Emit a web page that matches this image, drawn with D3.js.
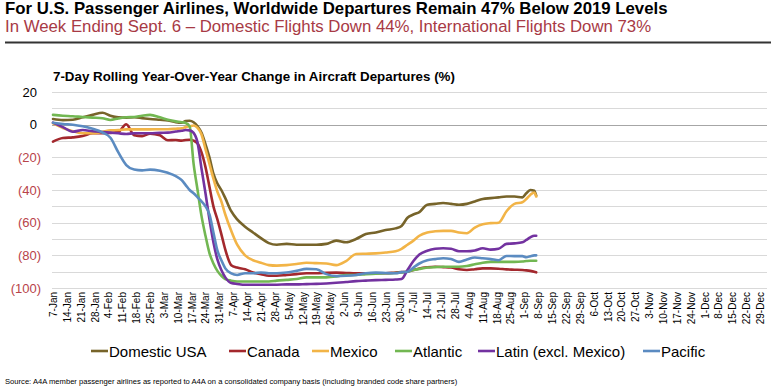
<!DOCTYPE html>
<html><head><meta charset="utf-8">
<script src="https://cdn.jsdelivr.net/npm/d3@7"></script>
<style>body{margin:0;background:#fff;}svg{display:block;font-family:Arial,"Liberation Sans",sans-serif;}</style>
</head><body><svg id="c" width="771" height="388"></svg>
<script>
const dates = ["2020-01-07","2020-01-12","2020-01-17","2020-01-22","2020-01-27","2020-02-01","2020-02-05","2020-02-09","2020-02-13","2020-02-17","2020-02-21","2020-02-25","2020-03-01","2020-03-05","2020-03-09","2020-03-12","2020-03-14","2020-03-16","2020-03-18","2020-03-20","2020-03-22","2020-03-24","2020-03-26","2020-03-28","2020-03-30","2020-04-01","2020-04-03","2020-04-06","2020-04-09","2020-04-13","2020-04-17","2020-04-21","2020-04-25","2020-04-29","2020-05-04","2020-05-09","2020-05-14","2020-05-19","2020-05-24","2020-05-29","2020-06-03","2020-06-08","2020-06-13","2020-06-18","2020-06-23","2020-06-28","2020-07-01","2020-07-04","2020-07-07","2020-07-10","2020-07-14","2020-07-18","2020-07-22","2020-07-26","2020-07-30","2020-08-03","2020-08-07","2020-08-11","2020-08-15","2020-08-19","2020-08-23","2020-08-27","2020-08-31","2020-09-02","2020-09-04","2020-09-06","2020-09-07"];

const domesticUSA = [3.5,2.8,3,4.5,6,7.3,5.5,4.5,4.3,4.5,4,3.5,3,2.6,1.5,1.2,2.2,2.4,1.5,-1,-5,-12,-20,-30,-36,-40,-45,-53,-58,-62.5,-66,-69.5,-72.5,-73.5,-73,-73.5,-73.5,-73.5,-73,-71,-72,-70,-67,-66,-64.5,-63.5,-62,-57,-55,-53.5,-49,-48.5,-48,-48.5,-49,-48.5,-47,-45.5,-45,-44.5,-44,-44,-44.5,-42,-40,-40.5,-43.5];
const canada = [-10.4,-8.2,-7.8,-7,-5.3,-5.3,-5,-4.5,0.3,-6.5,-7,-5.5,-6.5,-9.5,-9.4,-9.8,-9.4,-9.2,-9.8,-11.5,-17,-26,-38,-50,-58,-67,-76.5,-86,-87.5,-88.5,-90.5,-91.5,-92.5,-92.5,-92,-91.5,-91,-91,-90.7,-90.6,-90.8,-91,-91,-91,-91,-90.5,-90.3,-90,-89,-88,-87.3,-87,-87.2,-87.5,-88.5,-89,-88.5,-88,-88,-88.2,-88.6,-88.8,-89,-89.2,-89.5,-90,-90.4];
const mexico = [0.8,-2,-4,-5.3,-5.3,-4.3,-3.5,-3.3,-2.9,-2.9,-2.9,-2.9,-2.8,-2.8,-2.5,-2.2,-1.5,-1,-0.5,-2,-6,-15,-24,-33,-41,-47,-55,-65,-73.5,-80,-83,-84.5,-86,-86.3,-86,-85.3,-84.5,-84.8,-85,-86,-83.5,-79.2,-79,-78.8,-78.3,-77.5,-76,-73.5,-71,-68,-66,-65.3,-65,-65,-66,-66.5,-63,-61,-60.3,-60,-53,-48.5,-47.5,-45.5,-43,-41.5,-44];
const atlantic = [6,5.5,5.2,4.7,4.3,3.9,2.9,3.8,4.5,4.7,5.5,6,4.5,3,2,1.5,1,-1,-24,-40,-56,-68,-78.6,-85,-89.5,-92.5,-94.5,-95.5,-96,-96,-96,-96,-96,-95.5,-95,-94.5,-93.5,-93.5,-93.5,-93,-92,-92,-91.5,-91.3,-91,-90.8,-90.5,-90,-89,-88.3,-87.5,-87.2,-87,-87,-87,-86.5,-85.5,-84.5,-84,-84,-84,-84,-83.8,-83.5,-83.3,-83.3,-83.3];
const latin = [1.2,-1.5,-4.3,-3.3,-4,-4.5,-4.9,-5.3,-5.7,-5.3,-5.3,-5.3,-5,-4.9,-4.2,-3.7,-3.3,-3.5,-5,-11,-27,-42,-58,-72,-82.5,-89,-93.5,-97,-97.5,-98,-98,-98,-98,-98,-97.8,-97.8,-97.6,-97.5,-97.2,-96.8,-96.3,-95.8,-95.5,-95.2,-95,-94.8,-94.5,-89,-83.5,-79.5,-77.2,-76,-75.7,-76,-77.5,-77.5,-77,-75.7,-76.5,-76,-73,-72.7,-72,-70.6,-69,-68,-68];
const pacific = [1.2,0.4,0,-1,-2.5,-4.8,-8,-17,-24.7,-27.5,-28,-27.5,-28.2,-29.5,-31.5,-34,-37,-40,-42,-44.5,-47,-50,-55,-66,-77,-83,-88,-91,-92,-91,-91,-90.5,-91,-91,-90.5,-89.5,-88.3,-88.5,-91.5,-92.7,-92.5,-92,-91,-90.6,-90.8,-91,-90.3,-90,-87.5,-85,-83,-82.3,-81.8,-82.3,-84,-82.5,-81.3,-81.8,-82.3,-83,-80.4,-80.5,-80.5,-81.2,-80.5,-80,-80];

const seriesNames = ["Domestic USA","Canada","Mexico","Atlantic","Latin (excl. Mexico)","Pacific"];
const seriesColors = ["#77642a","#a3282d","#f2b447","#72b752","#7332a0","#5b8bc1"];
const yTicks = [20,0,-20,-40,-60,-80,-100];
const xTickLabels = ["7-Jan","14-Jan","21-Jan","28-Jan","4-Feb","11-Feb","18-Feb","25-Feb","3-Mar","10-Mar","17-Mar","24-Mar","31-Mar","7-Apr","14-Apr","21-Apr","28-Apr","5-May","12-May","19-May","26-May","2-Jun","9-Jun","16-Jun","23-Jun","30-Jun","7-Jul","14-Jul","21-Jul","28-Jul","4-Aug","11-Aug","18-Aug","25-Aug","1-Sep","8-Sep","15-Sep","22-Sep","29-Sep","6-Oct","13-Oct","20-Oct","27-Oct","3-Nov","10-Nov","17-Nov","24-Nov","1-Dec","8-Dec","15-Dec","22-Dec","29-Dec"];

const titleText = "For U.S. Passenger Airlines, Worldwide Departures Remain 47% Below 2019 Levels";
const subtitleText = "In Week Ending Sept. 6 \u2013 Domestic Flights Down 44%, International Flights Down 73%";
const chartTitle = "7-Day Rolling Year-Over-Year Change in Aircraft Departures (%)";
const sourceText = "Source: A4A member passenger airlines as reported to A4A on a consolidated company basis (including branded code share partners)";

const allSeries = [domesticUSA, canada, mexico, atlantic, latin, pacific];
const parse = d3.timeParse("%Y-%m-%d");
const parseTick = d3.timeParse("%d-%b-%Y");
const dts = dates.map(parse);

const svg = d3.select("#c");
const plotL = 52, plotR = 767;
const x = d3.scaleTime().domain([parse("2020-01-07"), parse("2020-12-29")]).range([53, 760]);
const y = d3.scaleLinear().domain([-100, 20]).range([288, 92]);

function fitText(sel, w) {
  const len = sel.node().getComputedTextLength();
  const fs = parseFloat(sel.attr("font-size"));
  sel.attr("font-size", (fs * w / len).toFixed(2));
}

// Titles
fitText(svg.append("text").attr("x", 5).attr("y", 14).attr("font-size", 15).attr("font-weight", "bold").attr("fill", "#000").text(titleText), 663);
fitText(svg.append("text").attr("x", 5).attr("y", 32).attr("font-size", 15).attr("fill", "#a83a45").text(subtitleText), 647);
svg.append("line").attr("x1", 5).attr("x2", 771).attr("y1", 42.5).attr("y2", 42.5).attr("stroke", "#333").attr("stroke-width", 2);
fitText(svg.append("text").attr("x", 53).attr("y", 81).attr("font-size", 13).attr("font-weight", "bold").attr("fill", "#000").text(chartTitle), 402);

// Gridlines every 10
const grid = d3.range(-100, 21, 10);
svg.append("g").selectAll("line").data(grid).join("line")
  .attr("x1", plotL).attr("x2", plotR)
  .attr("y1", d => Math.round(y(d)) + 0.5).attr("y2", d => Math.round(y(d)) + 0.5)
  .attr("stroke", d => d === 0 ? "#a6a6a6" : "#d9d9d9").attr("stroke-width", 1);

// Y axis labels
const yAxis = d3.axisLeft(y).tickValues(yTicks).tickSize(0).tickPadding(0)
  .tickFormat(d => d < 0 ? "(" + Math.abs(d) + ")" : String(d));
const yg = svg.append("g").attr("transform", "translate(41,0)").call(yAxis);
yg.select(".domain").remove();
yg.selectAll("text").attr("font-size", 13).attr("font-family", "Arial, 'Liberation Sans', sans-serif")
  .attr("fill", d => d < 0 ? "#b8434a" : "#000")
  .attr("dx", d => d < 0 ? 0 : -4);

// X axis labels
const tickDates = xTickLabels.map(t => parseTick(t + "-2020"));
const xAxis = d3.axisBottom(x).tickValues(tickDates).tickSize(0).tickPadding(0)
  .tickFormat((d, i) => xTickLabels[i]);
const xg = svg.append("g").attr("transform", "translate(0,292)").call(xAxis);
xg.select(".domain").remove();
xg.selectAll("text").attr("font-size", 10).attr("font-family", "Arial, 'Liberation Sans', sans-serif").attr("fill", "#000")
  .attr("transform", "rotate(-90)").attr("text-anchor", "end").attr("x", 0).attr("y", 0).attr("dy", "0.35em").attr("dx", 0);

// Lines
const line = d3.line().x((d, i) => x(dts[i])).y(d => y(d)).curve(d3.curveMonotoneX);
svg.append("g").selectAll("path").data(allSeries).join("path")
  .attr("d", d => line(d)).attr("fill", "none")
  .attr("stroke", (d, i) => seriesColors[i]).attr("stroke-width", 2.6)
  .attr("stroke-linejoin", "round").attr("stroke-linecap", "round");

// Legend
const legendX = [91, 229, 312, 395, 478, 643];
const lg = svg.append("g");
seriesNames.forEach((n, i) => {
  lg.append("line").attr("x1", legendX[i]).attr("x2", legendX[i] + 17).attr("y1", 351).attr("y2", 351)
    .attr("stroke", seriesColors[i]).attr("stroke-width", 2.6);
  lg.append("text").attr("x", legendX[i] + 18).attr("y", 357).attr("font-size", 15).attr("fill", "#000").text(n);
});

// Source
fitText(svg.append("text").attr("x", 5).attr("y", 384).attr("font-size", 7.5).attr("fill", "#000").text(sourceText), 452);
</script></body></html>
